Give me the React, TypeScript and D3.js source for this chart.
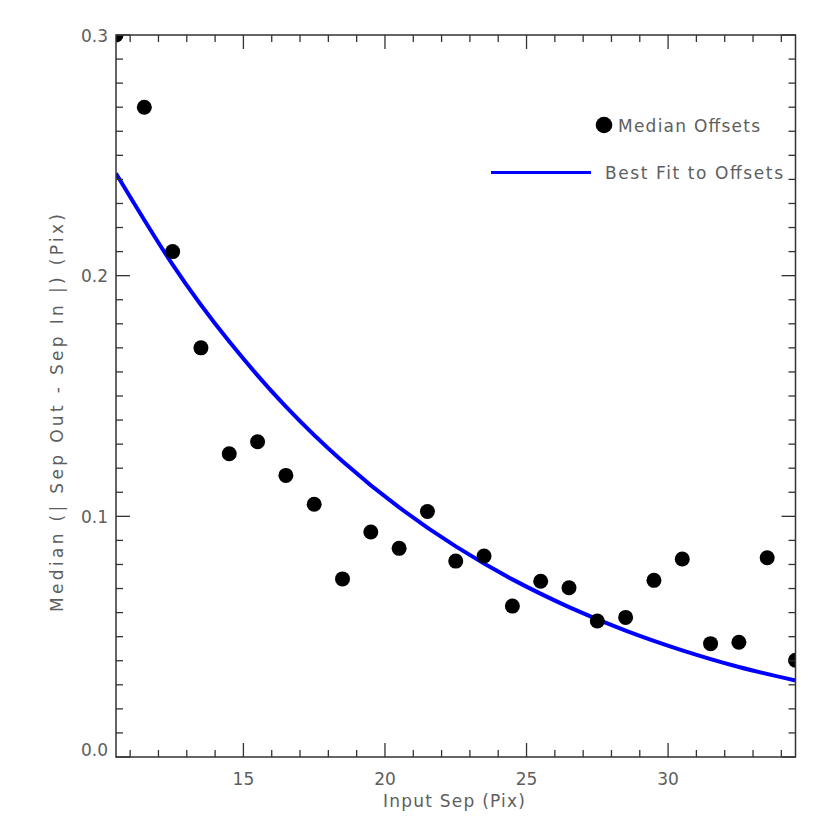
import React from "react";
import * as d3 from "d3";

const sepX = [10.5, 11.5, 12.5, 13.5, 14.5, 15.5, 16.5, 17.5, 18.5, 19.5, 20.5, 21.5, 22.5, 23.5, 24.5, 25.5, 26.5, 27.5, 28.5, 29.5, 30.5, 31.5, 32.5, 33.5, 34.5];
const medianOffsets = [0.300, 0.270, 0.210, 0.170, 0.126, 0.131, 0.117, 0.105, 0.074, 0.0935, 0.0867, 0.102, 0.0814, 0.0835, 0.0627, 0.0730, 0.0703, 0.0565, 0.0580, 0.0734, 0.0823, 0.0471, 0.0477, 0.0828, 0.0402];
const fitX = [10.5, 12.5, 14.5, 16.5, 18.5, 20.5, 22.5, 24.5, 26.5, 28.5, 30.5, 32.5, 34.5];
const fitY = [0.2425, 0.2046, 0.1726, 0.1456, 0.1229, 0.1037, 0.0875, 0.0738, 0.0623, 0.0525, 0.0443, 0.0374, 0.0318];
const xMajorTicks = [15, 20, 25, 30];
const yMajorTicks = [0.0, 0.1, 0.2, 0.3];
const xLabel = "Input Sep (Pix)";
const yLabel = "Median (| Sep Out - Sep In |) (Pix)";
const legendPoints = "Median Offsets";
const legendLine = "Best Fit to Offsets";

const W = 830, H = 830;
const L = 116, R = 795.5, T = 35, B = 757;
const FONT = "'DejaVu Sans', sans-serif";
const TXT = "#5e5e5e";
const AX = "#333";

export default function App() {
  const x = d3.scaleLinear().domain([10.5, 34.5]).range([L, R]);
  const y = d3.scaleLinear().domain([0, 0.3]).range([B, T]);
  const xMinor = d3.range(11, 35, 1).filter((v) => !xMajorTicks.includes(v));
  const yMinor = d3.range(1, 30).map((i) => i / 100).filter((v) => Math.abs(v * 10 - Math.round(v * 10)) > 1e-6);
  const line = d3
    .line<number>()
    .x((_, i) => x(fitX[i]))
    .y((d) => y(d))
    .curve(d3.curveNatural);
  const MJ = 14, MN = 7;
  return (
    <svg width={W} height={H} style={{ position: "fixed", left: 0, top: 0, background: "#fff" }}>
      <defs>
        <clipPath id="plotclip">
          <rect x={L} y={T} width={R - L} height={B - T} />
        </clipPath>
      </defs>
      <rect x={0} y={0} width={W} height={H} fill="#fff" />
      <g clipPath="url(#plotclip)">
        <path d={line(fitY) || ""} fill="none" stroke="#0000ff" strokeWidth={4} />
        {sepX.map((v, i) => (
          <circle key={i} cx={x(v)} cy={y(medianOffsets[i])} r={7.5} fill="#000" />
        ))}
      </g>
      {/* frame */}
      <rect x={L} y={T} width={R - L} height={B - T} fill="none" stroke={AX} strokeWidth={1.5} />
      {/* x ticks */}
      {xMajorTicks.map((v) => (
        <g key={"xm" + v}>
          <line x1={x(v)} x2={x(v)} y1={B} y2={B - MJ} stroke={AX} strokeWidth={1.3} />
          <line x1={x(v)} x2={x(v)} y1={T} y2={T + MJ} stroke={AX} strokeWidth={1.3} />
          <text x={x(v)} y={785} textAnchor="middle" fontFamily={FONT} fontSize={17} fill={TXT}>
            {v}
          </text>
        </g>
      ))}
      {xMinor.map((v) => (
        <g key={"xn" + v}>
          <line x1={x(v)} x2={x(v)} y1={B} y2={B - MN} stroke={AX} strokeWidth={1.3} />
          <line x1={x(v)} x2={x(v)} y1={T} y2={T + MN} stroke={AX} strokeWidth={1.3} />
        </g>
      ))}
      {/* y ticks */}
      {yMajorTicks.map((v) => (
        <g key={"ym" + v}>
          <line x1={L} x2={L + MJ} y1={y(v)} y2={y(v)} stroke={AX} strokeWidth={1.3} />
          <line x1={R} x2={R - MJ} y1={y(v)} y2={y(v)} stroke={AX} strokeWidth={1.3} />
          <text x={L - 8} y={y(v) + (v === 0 ? -1 : 6.5)} textAnchor="end" fontFamily={FONT} fontSize={17} fill={TXT}>
            {v.toFixed(1)}
          </text>
        </g>
      ))}
      {yMinor.map((v) => (
        <g key={"yn" + v}>
          <line x1={L} x2={L + MN} y1={y(v)} y2={y(v)} stroke={AX} strokeWidth={1.3} />
          <line x1={R} x2={R - MN} y1={y(v)} y2={y(v)} stroke={AX} strokeWidth={1.3} />
        </g>
      ))}
      {/* axis titles */}
      <text
        x={383}
        y={807}
        fontFamily={FONT}
        fontSize={17}
        fill={TXT}
        textLength={142}
        lengthAdjust="spacing"
      >
        {xLabel}
      </text>
      <text
        transform={`translate(63,612) rotate(-90)`}
        fontFamily={FONT}
        fontSize={17}
        fill={TXT}
        textLength={398}
        lengthAdjust="spacing"
      >
        {yLabel}
      </text>
      {/* legend */}
      <circle cx={604} cy={125} r={8.3} fill="#000" />
      <text x={618} y={131.5} fontFamily={FONT} fontSize={17} fill={TXT} textLength={142} lengthAdjust="spacing">
        {legendPoints}
      </text>
      <line x1={491} x2={591} y1={172.5} y2={172.5} stroke="#0000ff" strokeWidth={3} />
      <text x={605} y={179} fontFamily={FONT} fontSize={17} fill={TXT} textLength={178} lengthAdjust="spacing">
        {legendLine}
      </text>
    </svg>
  );
}
